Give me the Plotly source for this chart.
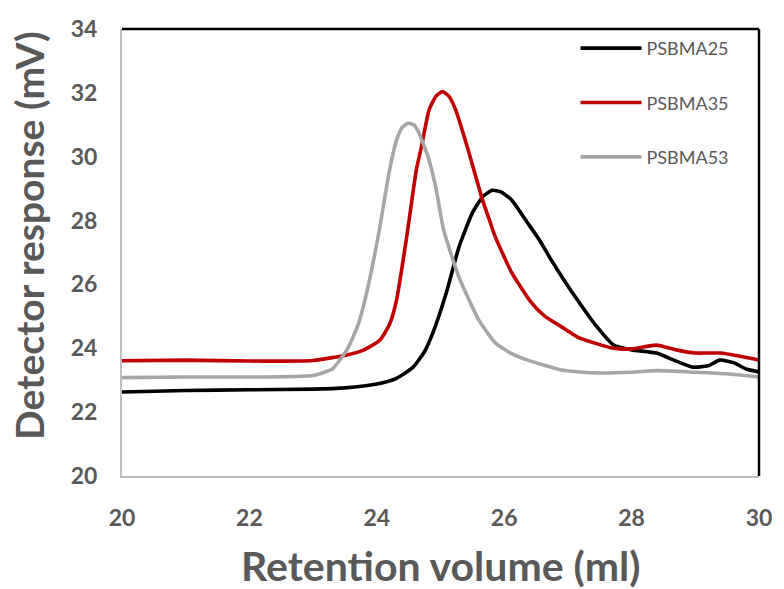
import plotly.graph_objects as go

# PSBMA25 (black)
x_25 = [20, 21, 22, 23, 23.5, 24.0, 24.3, 24.57, 24.75, 24.88, 25.09, 25.29, 25.5, 25.66, 25.81, 25.95,
        26.12, 26.37, 26.55, 26.74, 26.95, 27.15, 27.41, 27.72, 28.0, 28.39, 28.7, 28.96, 29.2, 29.38,
        29.6, 29.8, 30]
y_25 = [22.63, 22.68, 22.7, 22.72, 22.76, 22.88, 23.05, 23.41, 23.9, 24.48, 25.73, 27.17, 28.24, 28.74,
        28.95, 28.9, 28.64, 27.92, 27.4, 26.76, 26.1, 25.51, 24.79, 24.1, 23.95, 23.85, 23.6, 23.41,
        23.45, 23.63, 23.55, 23.35, 23.26]

# PSBMA35 (red)
x_35 = [20, 21, 22, 23, 23.53, 23.8, 24.05, 24.2, 24.31, 24.47, 24.62, 24.70, 24.82, 24.93, 25.03, 25.13,
        25.24, 25.42, 25.66, 25.78, 25.86, 26.12, 26.43, 26.64, 26.9, 27.15, 27.41, 27.72, 28.0, 28.39,
        28.7, 29.0, 29.4, 29.7, 30]
y_35 = [23.61, 23.63, 23.6, 23.62, 23.79, 23.95, 24.26, 24.75, 25.51, 27.5, 29.58, 30.31, 31.46, 31.9,
        32.04, 31.9, 31.46, 30.31, 28.64, 27.95, 27.49, 26.36, 25.42, 25.0, 24.67, 24.35, 24.17, 24.0,
        23.98, 24.1, 23.95, 23.85, 23.85, 23.75, 23.63]

# PSBMA53 (gray)
x_53 = [20, 21, 22, 23, 23.3, 23.53, 23.7, 23.84, 24.03, 24.2, 24.31, 24.4, 24.49, 24.58, 24.66, 24.73,
        24.82, 24.93, 25.05, 25.29, 25.6, 25.86, 26.1, 26.37, 26.9, 27.41, 28.0, 28.4, 29.0, 29.5, 30]
y_53 = [23.08, 23.1, 23.1, 23.15, 23.35, 23.95, 24.7, 25.73, 27.6, 29.58, 30.52, 30.92, 31.05, 31.0,
        30.75, 30.4, 29.9, 29.0, 27.7, 26.23, 24.89, 24.17, 23.85, 23.63, 23.32, 23.23, 23.25, 23.3,
        23.25, 23.2, 23.1]

series = [
    ("PSBMA25", x_25, y_25, "#000000"),
    ("PSBMA35", x_35, y_35, "#C00000"),
    ("PSBMA53", x_53, y_53, "#A6A6A6"),
]

x_ticks = [20, 22, 24, 26, 28, 30]
y_ticks = [20, 22, 24, 26, 28, 30, 32, 34]

fig = go.Figure()
for name, xs, ys, color in series:
    fig.add_trace(go.Scatter(
        x=xs, y=ys, mode="lines", name=name, legendgroup=name,
        line=dict(color=color, width=3.6, shape="spline", smoothing=0.5),
    ))

tick_font = dict(family="Lato, sans-serif", size=23, color="#595959", weight="bold")
ytitle_font = dict(family="Lato, sans-serif", size=39, color="#595959")
xtitle_font = dict(family="Lato, sans-serif", size=41, color="#595959")

fig.update_layout(
    width=784, height=589,
    margin=dict(l=122, r=17, t=29, b=113),
    paper_bgcolor="white", plot_bgcolor="white",
    showlegend=True,
    legend=dict(
        x=0.712, y=0.998, xanchor="left", yanchor="top",
        font=dict(family="Lato, sans-serif", size=18, color="#595959"),
        bgcolor="rgba(0,0,0,0)", borderwidth=0,
        tracegroupgap=28, itemwidth=61,
    ),
    xaxis=dict(
        range=[20, 30], tickvals=x_ticks, ticktext=[str(v) for v in x_ticks],
        showgrid=False, zeroline=False, showline=True, linecolor="#BFBFBF", linewidth=2,
        ticks="", tickfont=tick_font, ticklabelstandoff=20,
    ),
    yaxis=dict(
        range=[20, 34], tickvals=y_ticks, ticktext=[str(v) for v in y_ticks],
        showgrid=False, zeroline=False, showline=True, linecolor="#BFBFBF", linewidth=2,
        ticks="", tickfont=tick_font, ticklabelstandoff=18,
    ),
    annotations=[
        dict(text="<b>Detector response (mV)</b>", xref="paper", yref="paper",
             x=0, y=(476 - 236) / 447, xshift=-93, xanchor="center", yanchor="middle",
             textangle=-90, showarrow=False, font=ytitle_font),
        dict(text="<b>Retention volume (ml)</b>", xref="paper", yref="paper",
             x=0.5, y=0, yshift=-(565 - 476), xanchor="center", yanchor="middle",
             showarrow=False, font=xtitle_font),
    ],
    shapes=[
        dict(type="line", xref="paper", yref="paper", x0=0, x1=1, y0=1, y1=1,
             line=dict(color="black", width=2.5)),
        dict(type="line", xref="paper", yref="paper", x0=1, x1=1, y0=0, y1=1,
             line=dict(color="black", width=2.5)),
    ],
)

fig.write_html("out.html")
